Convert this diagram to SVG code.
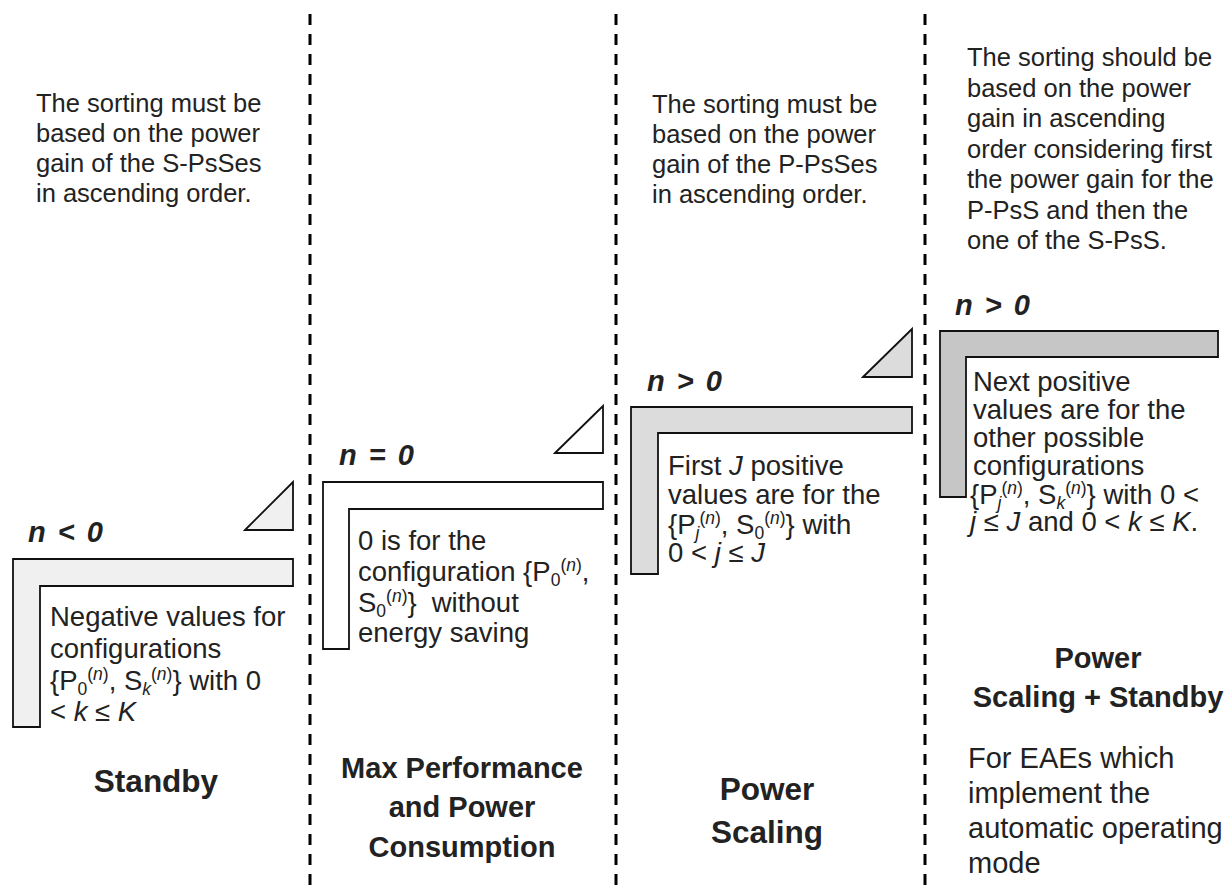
<svg xmlns="http://www.w3.org/2000/svg" width="1228" height="890" viewBox="0 0 1228 890">
<style>
.t{font-family:"Liberation Sans",Arial,Helvetica,sans-serif;fill:#222}
.h{font-size:25.5px}
.b{font-size:27.5px}
.e{font-size:29px}
.n{font-size:29px;font-weight:bold;font-style:italic;word-spacing:4px}
.lbl{font-size:29px;font-weight:bold;text-anchor:middle}
.big{font-size:31.5px}
.s{font-size:17.5px}
.i{font-style:italic}
.div{stroke:#000;stroke-width:3;stroke-dasharray:11 9;fill:none}
.L{stroke:#111;stroke-width:1.8}
.tri{stroke:#111;stroke-width:1.8}
</style>
<rect width="1228" height="890" fill="#fff"/>
<g id="dividers">
<line class="div" x1="310" y1="14" x2="310" y2="886"/>
<line class="div" x1="616" y1="14" x2="616" y2="886"/>
<line class="div" x1="925" y1="14" x2="925" y2="886"/>
</g>
<g id="col-standby">
<text class="t h" x="36" y="112">The sorting must be</text>
<text class="t h" x="36" y="142">based on the power</text>
<text class="t h" x="36" y="172">gain of the S-PsSes</text>
<text class="t h" x="36" y="202">in ascending order.</text>
<path class="tri" d="M245,530 L293,482 L293,530 Z" fill="#f0f0f0"/>
<text class="t n" x="28" y="542">n &lt; 0</text>
<path class="L" d="M13,559 H293 V586 H40 V727 H13 Z" fill="#f0f0f0"/>
<text class="t b" x="50" y="626">Negative values for</text>
<text class="t b" x="50" y="658">configurations</text>
<text class="t b" x="50" y="690">{P<tspan class="s" dy="5">0</tspan><tspan class="s" dy="-15">(</tspan><tspan class="s i">n</tspan><tspan class="s">)</tspan><tspan dy="10">, S</tspan><tspan class="s i" dy="5">k</tspan><tspan class="s" dy="-15">(</tspan><tspan class="s i">n</tspan><tspan class="s">)</tspan><tspan dy="10">} with 0</tspan></text>
<text class="t b" x="50" y="721">&lt; <tspan class="i">k</tspan> ≤ <tspan class="i">K</tspan></text>
<text class="t lbl big" x="156" y="792">Standby</text>
</g>
<g id="col-maxperf">
<path class="tri" d="M555,453 L603,406 L603,453 Z" fill="#ffffff"/>
<text class="t n" x="339" y="465">n = 0</text>
<path class="L" d="M323,482 H603 V509 H349 V649 H323 Z" fill="#ffffff"/>
<text class="t b" x="358" y="550">0 is for the</text>
<text class="t b" x="358" y="581">configuration {P<tspan class="s" dy="5">0</tspan><tspan class="s" dy="-15">(</tspan><tspan class="s i">n</tspan><tspan class="s">)</tspan><tspan dy="10">,</tspan></text>
<text class="t b" x="358" y="612">S<tspan class="s" dy="5">0</tspan><tspan class="s" dy="-15">(</tspan><tspan class="s i">n</tspan><tspan class="s">)</tspan><tspan dy="10">}</tspan><tspan dx="15">without</tspan></text>
<text class="t b" x="358" y="642">energy saving</text>
<text class="t lbl" x="462" y="778">Max Performance</text>
<text class="t lbl" x="462" y="817">and Power</text>
<text class="t lbl" x="462" y="857">Consumption</text>
</g>
<g id="col-powerscaling">
<text class="t h" x="652" y="113">The sorting must be</text>
<text class="t h" x="652" y="143">based on the power</text>
<text class="t h" x="652" y="173">gain of the P-PsSes</text>
<text class="t h" x="652" y="203">in ascending order.</text>
<path class="tri" d="M863,377 L912,329 L912,377 Z" fill="#dcdcdc"/>
<text class="t n" x="647" y="391">n &gt; 0</text>
<path class="L" d="M631,407 H912 V433 H658 V574 H631 Z" fill="#dcdcdc"/>
<text class="t b" x="668" y="475">First <tspan class="i">J</tspan> positive</text>
<text class="t b" x="668" y="504">values are for the</text>
<text class="t b" x="668" y="534">{P<tspan class="s i" dy="5">j</tspan><tspan class="s" dy="-15">(</tspan><tspan class="s i">n</tspan><tspan class="s">)</tspan><tspan dy="10">, S</tspan><tspan class="s" dy="5">0</tspan><tspan class="s" dy="-15">(</tspan><tspan class="s i">n</tspan><tspan class="s">)</tspan><tspan dy="10">} with</tspan></text>
<text class="t b" x="668" y="562">0 &lt; <tspan class="i">j</tspan> ≤ <tspan class="i">J</tspan></text>
<text class="t lbl big" x="767" y="800">Power</text>
<text class="t lbl big" x="767" y="843">Scaling</text>
</g>
<g id="col-powerscaling-standby">
<text class="t h" x="967" y="66">The sorting should be</text>
<text class="t h" x="967" y="96.5">based on the power</text>
<text class="t h" x="967" y="127">gain in ascending</text>
<text class="t h" x="967" y="157.5">order considering first</text>
<text class="t h" x="967" y="188">the power gain for the</text>
<text class="t h" x="967" y="218.5">P-PsS and then the</text>
<text class="t h" x="967" y="249">one of the S-PsS.</text>
<text class="t n" x="955" y="315">n &gt; 0</text>
<path class="L" d="M940,331 H1218 V357 H966 V497 H940 Z" fill="#c6c6c6"/>
<text class="t b" x="973" y="391">Next positive</text>
<text class="t b" x="973" y="419">values are for the</text>
<text class="t b" x="973" y="447">other possible</text>
<text class="t b" x="973" y="475">configurations</text>
<text class="t b" x="970" y="504">{P<tspan class="s i" dy="5">j</tspan><tspan class="s" dy="-15">(</tspan><tspan class="s i">n</tspan><tspan class="s">)</tspan><tspan dy="10">, S</tspan><tspan class="s i" dy="5">k</tspan><tspan class="s" dy="-15">(</tspan><tspan class="s i">n</tspan><tspan class="s">)</tspan><tspan dy="10">} with 0 &lt;</tspan></text>
<text class="t b" x="970" y="531"><tspan class="i">j</tspan> ≤ <tspan class="i">J</tspan> and 0 &lt; <tspan class="i">k</tspan> ≤ <tspan class="i">K</tspan>.</text>
<text class="t lbl" x="1098" y="668">Power</text>
<text class="t lbl" x="1098" y="707">Scaling + Standby</text>
<text class="t e" x="968" y="768">For EAEs which</text>
<text class="t e" x="968" y="803">implement the</text>
<text class="t e" x="968" y="838">automatic operating</text>
<text class="t e" x="968" y="873">mode</text>
</g>
</svg>
